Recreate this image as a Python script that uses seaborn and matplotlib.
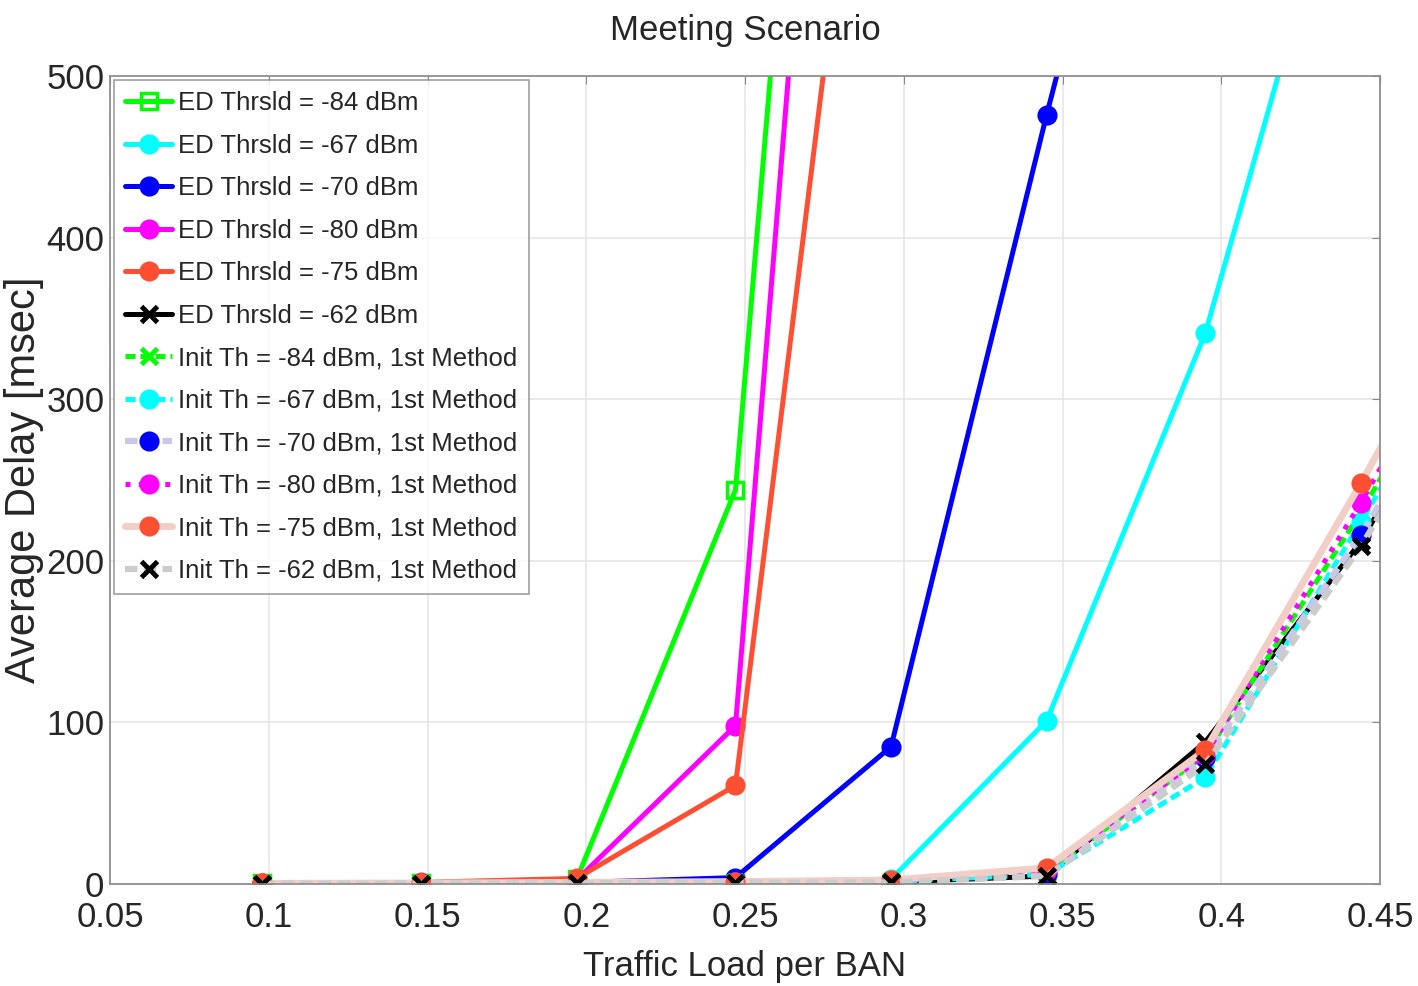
"""Meeting Scenario: average delay vs traffic load per BAN"""
import numpy as np
import matplotlib
matplotlib.use("Agg")
import matplotlib.pyplot as plt
import seaborn as sns

# traffic load sample points (last one lies just past the axis limit)
traffic_load = [0.098, 0.148, 0.197, 0.247, 0.296, 0.345, 0.395, 0.444, 0.494]

# fixed ED threshold curves (values beyond the top are clipped by ylim)
ed_84 = [0.5, 0.8, 3, 244, 1385]
ed_67 = [0.3, 0.5, 0.8, 1.2, 3, 101, 341, 681]
ed_70 = [0.3, 0.5, 0.9, 4, 85, 476, 855]
ed_80 = [0.5, 0.8, 2.5, 98, 1280]
ed_75 = [0.6, 1.0, 3.5, 61, 840]
ed_62 = [0.2, 0.3, 0.5, 0.8, 1.2, 5, 88, 212, 380]

# adaptive threshold, 1st method
init_84 = [0.3, 0.5, 0.8, 1.2, 2.0, 7, 80, 230, 400]
init_67 = [0.3, 0.5, 0.8, 1.2, 1.5, 6, 66, 224, 390]
init_70 = [0.3, 0.5, 0.8, 1.2, 1.5, 6, 78, 216, 380]
init_80 = [0.3, 0.5, 0.8, 1.2, 2.0, 9, 80, 236, 410]
init_75 = [0.4, 0.6, 1.0, 1.5, 2.5, 10, 83, 248, 425]
init_62 = [0.2, 0.3, 0.5, 0.8, 1.0, 5, 74, 209, 370]

ed_labels = ["ED Thrsld = -84 dBm", "ED Thrsld = -67 dBm", "ED Thrsld = -70 dBm",
             "ED Thrsld = -80 dBm", "ED Thrsld = -75 dBm", "ED Thrsld = -62 dBm"]
init_labels = ["Init Th = -84 dBm, 1st Method", "Init Th = -67 dBm, 1st Method",
               "Init Th = -70 dBm, 1st Method", "Init Th = -80 dBm, 1st Method",
               "Init Th = -75 dBm, 1st Method", "Init Th = -62 dBm, 1st Method"]

ORANGE = "#ff4f33"

sns.set_style("white")
plt.rcParams["font.family"] = ["Liberation Sans", "DejaVu Sans"]

fig, ax = plt.subplots(figsize=(14.18, 9.86), dpi=100)
fig.subplots_adjust(left=0.0776, right=0.9732, top=0.9229, bottom=0.1034)

# (values, label, line colour, marker colour, marker, linestyle, lw, marker face)
styles = [
    (ed_84, ed_labels[0], "#00ff00", "#00ff00", "s", "-", 3.6, "none"),
    (ed_67, ed_labels[1], "#00ffff", "#00ffff", "o", "-", 3.6, None),
    (ed_70, ed_labels[2], "#0000ff", "#0000ff", "o", "-", 3.6, None),
    (ed_80, ed_labels[3], "#ff00ff", "#ff00ff", "o", "-", 3.6, None),
    (ed_75, ed_labels[4], ORANGE, ORANGE, "o", "-", 3.6, None),
    (ed_62, ed_labels[5], "black", "black", "x", "-", 3.6, None),
    (init_84, init_labels[0], "#00ff00", "#00ff00", "x", (0, (2, 1)), 3.6, None),
    (init_67, init_labels[1], "#00ffff", "#00ffff", "o", (0, (2, 1)), 3.6, None),
    (init_70, init_labels[2], "#c8c8e8", "#0000ff", "o", (0, (2, 1)), 4.5, None),
    (init_80, init_labels[3], "#ff00ff", "#ff00ff", "o", ":", 3.6, None),
    (init_75, init_labels[4], "#f2cfc6", ORANGE, "o", "-", 5.0, None),
    (init_62, init_labels[5], "#cccccc", "black", "x", (0, (2, 1)), 4.5, None),
]

for vals, label, lc, mc, mk, ls, lw, mfc in styles:
    x = traffic_load[:len(vals)]
    sns.lineplot(x=x, y=vals, ax=ax, color=lc, linestyle=ls, linewidth=lw,
                 marker=mk, markersize=12, markeredgewidth=3.5 if mk == "x" else 2.5,
                 markeredgecolor=mc, markerfacecolor=mc if mfc is None else mfc,
                 label=label, clip_on=True, sort=False)

ax.set_xlim(0.05, 0.45)
ax.set_ylim(0, 500)
ax.set_xticks(np.arange(0.05, 0.451, 0.05))
ax.set_xticklabels(["0.05", "0.1", "0.15", "0.2", "0.25", "0.3", "0.35", "0.4", "0.45"])
ax.set_yticks([0, 100, 200, 300, 400, 500])
ax.tick_params(labelsize=25, direction="in", top=True, right=True, length=6,
               color="#888888")
ax.tick_params(axis="x", pad=12)
ax.tick_params(axis="y", pad=4)
ax.grid(True, color="#e6e6e6", linewidth=1.2)
for sp in ax.spines.values():
    sp.set_color("#888888")
    sp.set_linewidth(1.2)

ax.set_title("Meeting Scenario", fontsize=25, pad=26)
ax.set_xlabel("Traffic Load per BAN", fontsize=25, labelpad=12)
ax.set_ylabel("Average Delay [msec]", fontsize=30)
ax.yaxis.set_label_coords(-0.052, 0.5)

leg = ax.legend(loc="upper left", fontsize=18.5, frameon=True, fancybox=False,
                edgecolor="#888888", handlelength=1.8, handletextpad=0.25,
                labelspacing=0.72, borderaxespad=0.15, borderpad=0.45)
leg.get_frame().set_linewidth(1.2)

fig.savefig("out.png", dpi=100)
